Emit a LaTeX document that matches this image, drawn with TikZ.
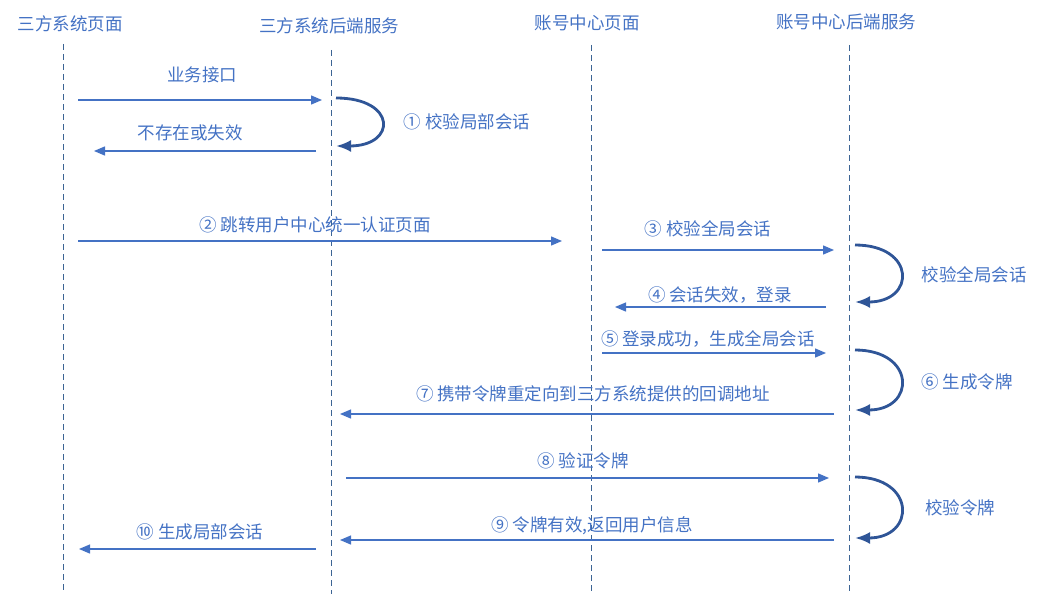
\documentclass[tikz,border=0pt]{standalone}
\usepackage{fontspec}
\newfontfamily\cjk{Noto Sans CJK SC}
\usepackage{tikz}
\usetikzlibrary{arrows.meta}
\definecolor{seqblue}{RGB}{68,114,196}
\definecolor{seqdark}{RGB}{47,85,151}
\definecolor{seqline}{RGB}{60,100,148}

\begin{document}
\begin{tikzpicture}[x=1pt,y=-1pt,
  hdr/.style={font=\cjk\fontsize{17.5}{20}\selectfont,text=seqblue,inner sep=0pt},
  lbl/.style={font=\cjk\fontsize{17.5}{20}\selectfont,text=seqblue,inner sep=0pt},
  lifeline/.style={seqline,line width=1pt,dash pattern=on 6pt off 4pt},
  msg/.style={seqblue,line width=1.3pt,-{Triangle[length=11pt,width=9pt]}},
  selfloop/.style={seqdark,line width=2.8pt,-{Latex[length=15pt,width=12pt]}}]
  \useasboundingbox (0,0) rectangle (1063,594);
  % Headers
  \node[hdr] (p1) at (70,24) {三方系统页面};
  \node[hdr] (p2) at (329,26) {三方系统后端服务};
  \node[hdr] (p3) at (587,23) {账号中心页面};
  \node[hdr] (p4) at (846,22) {账号中心后端服务};
  % Lifelines
  \coordinate (l1t) at (63,44);  \coordinate (l1b) at (63,594);
  \coordinate (l2t) at (331,50); \coordinate (l2b) at (331,594);
  \coordinate (l3t) at (591,45); \coordinate (l3b) at (591,594);
  \coordinate (l4t) at (849,45); \coordinate (l4b) at (849,594);
  \draw[lifeline] (l1t) -- (l1b);
  \draw[lifeline] (l2t) -- (l2b);
  \draw[lifeline] (l3t) -- (l3b);
  \draw[lifeline] (l4t) -- (l4b);
  % Local session check
  \coordinate (a1) at (78,100);  \coordinate (b1) at (322,100);
  \draw[msg] (a1) -- (b1);
  \node[lbl] (t1) at (202,75) {业务接口};
  \coordinate (a2) at (316,151); \coordinate (b2) at (94,151);
  \draw[msg] (a2) -- (b2);
  \node[lbl] (t2) at (190,133) {不存在或失效};
  \coordinate (s1) at (336,98);  \coordinate (e1) at (336,146);
  \draw[selfloop] (s1) .. controls (397,98) and (397,146) .. (e1);
  \node[lbl] (t3) at (467,122) {① 校验局部会话};
  % Redirect to account center
  \coordinate (a3) at (78,241);  \coordinate (b3) at (562,241);
  \draw[msg] (a3) -- (b3);
  \node[lbl] (t4) at (315,225) {② 跳转用户中心统一认证页面};
  \coordinate (a4) at (602,250); \coordinate (b4) at (834,250);
  \draw[msg] (a4) -- (b4);
  \node[lbl] (t5) at (708,229) {③ 校验全局会话};
  \coordinate (s2) at (855,245); \coordinate (e2) at (855,302);
  \draw[selfloop] (s2) .. controls (916,245) and (916,302) .. (e2);
  \node[lbl] (t6) at (974,275) {校验全局会话};
  \coordinate (a5) at (826,307); \coordinate (b5) at (615,307);
  \draw[msg] (a5) -- (b5);
  \node[lbl] (t7) at (720,295) {④ 会话失效，登录};
  \coordinate (a6) at (602,353); \coordinate (b6) at (826,353);
  \draw[msg] (a6) -- (b6);
  \node[lbl] (t8) at (708,339) {⑤ 登录成功，生成全局会话};
  \coordinate (s3) at (855,350); \coordinate (e3) at (855,410);
  \draw[selfloop] (s3) .. controls (916,350) and (916,410) .. (e3);
  \node[lbl] (t9) at (967,382) {⑥ 生成令牌};
  % Token back to third party
  \coordinate (a7) at (834,414); \coordinate (b7) at (340,414);
  \draw[msg] (a7) -- (b7);
  \node[lbl] (t10) at (593,394) {⑦ 携带令牌重定向到三方系统提供的回调地址};
  \coordinate (a8) at (346,478); \coordinate (b8) at (829,478);
  \draw[msg] (a8) -- (b8);
  \node[lbl] (t11) at (583,461) {⑧ 验证令牌};
  \coordinate (s4) at (855,477); \coordinate (e4) at (855,538);
  \draw[selfloop] (s4) .. controls (916,477) and (916,538) .. (e4);
  \node[lbl] (t12) at (960,508) {校验令牌};
  \coordinate (a9) at (834,540); \coordinate (b9) at (340,540);
  \draw[msg] (a9) -- (b9);
  \node[lbl] (t13) at (592,526) {⑨ 令牌有效,返回用户信息};
  \coordinate (a10) at (316,549); \coordinate (b10) at (79,549);
  \draw[msg] (a10) -- (b10);
  \node[lbl] (t14) at (200,532) {⑩ 生成局部会话};
\end{tikzpicture}
\end{document}
